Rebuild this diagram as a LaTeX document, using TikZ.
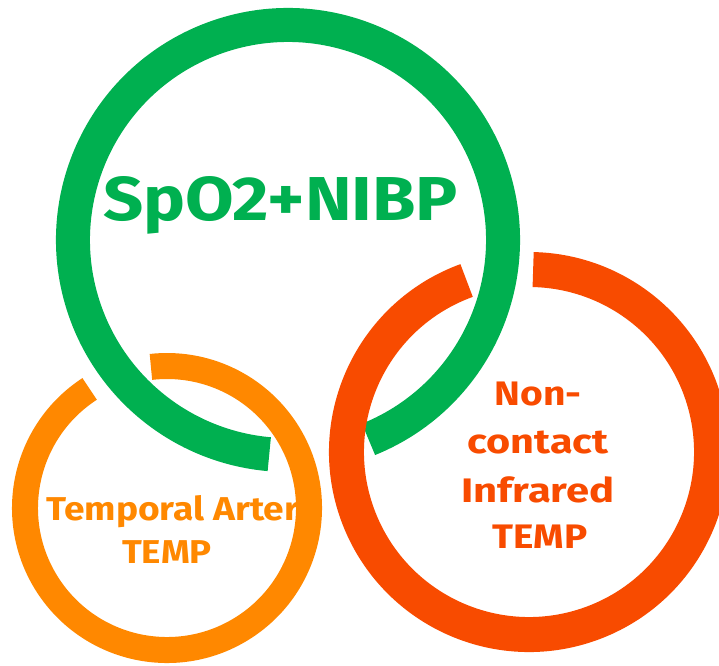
\documentclass[tikz,border=0pt]{standalone}
\usepackage{fontspec}
\setmainfont{Fira Sans}
\definecolor{ringgreen}{HTML}{00B050}
\definecolor{ringorange}{HTML}{FF8800}
\definecolor{ringred}{HTML}{F84B00}
\newlength\fitlen
\newcommand\fitw[2]{\settowidth\fitlen{#2}\pgfmathsetmacro\fitr{#1/\fitlen}\scalebox{\fitr}[1]{#2}}
\tikzset{
  ring/.style={line width=#1, line cap=butt},
  lbl/.style={inner sep=0pt, anchor=base, font=\bfseries},
}
\begin{document}
\begin{tikzpicture}[x=1pt,y=1pt]
\useasboundingbox (0,0) rectangle (719,665);
\coordinate (gc) at (288,425);
\coordinate (oc) at (167,157);
\coordinate (rc) at (529,213);
% texts
\node[lbl, text=ringgreen, font=\bfseries\fontsize{62}{62}\selectfont] (tg) at (280.5,445) {\fitw{355}{SpO2+NIBP}};
\node[lbl, anchor=base west, text=ringorange, font=\bfseries\fontsize{33}{33}\selectfont] (to1) at (46,145) {\fitw{253}{Temporal Arter}};
\node[lbl, text=ringorange, font=\bfseries\fontsize{33}{33}\selectfont] (to2) at (167,102) {\fitw{90}{TEMP}};
\node[lbl, text=ringred, font=\bfseries\fontsize{34}{34}\selectfont] (tr1) at (538,260) {\fitw{87}{Non-}};
\node[lbl, text=ringred, font=\bfseries\fontsize{34}{34}\selectfont] (tr2) at (538,212) {\fitw{141}{contact}};
\node[lbl, text=ringred, font=\bfseries\fontsize{34}{34}\selectfont] (tr3) at (538,163) {\fitw{153}{Infrared}};
\node[lbl, text=ringred, font=\bfseries\fontsize{34}{34}\selectfont] (tr4) at (540,117) {\fitw{95}{TEMP}};
% rings
\draw[ring=34pt, ringgreen] ([shift={(-68:215)}]gc) arc[start angle=-68, end angle=265, radius=215];
\draw[ring=26pt, ringorange] ([shift={(123:142)}]oc) arc[start angle=123, end angle=456.5, radius=142];
\draw[ring=35pt, ringred] ([shift={(110:182.5)}]rc) arc[start angle=110, end angle=448.7, radius=182.5];
\end{tikzpicture}
\end{document}
